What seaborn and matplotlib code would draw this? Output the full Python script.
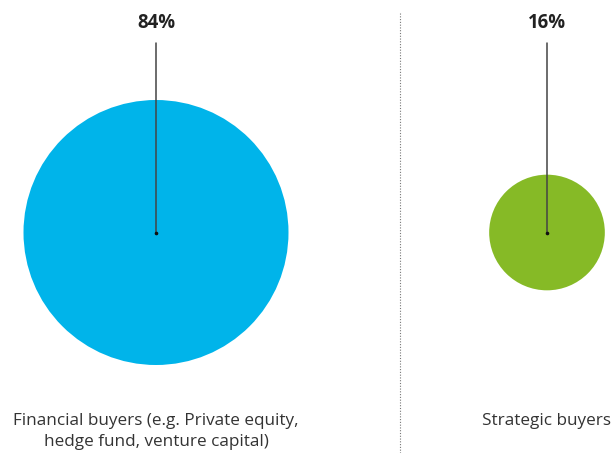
import matplotlib
matplotlib.use("Agg")
import matplotlib.pyplot as plt
import seaborn as sns
import pandas as pd

categories = ["Financial buyers (e.g. Private equity,\nhedge fund, venture capital)", "Strategic buyers"]
values = [84, 16]
labels = ["84%", "16%"]
colors = ["#00B4EA", "#86BA26"]

df = pd.DataFrame({"pos": [0, 1], "y": [0, 0], "value": values, "cat": categories})

sns.set_theme(style="white")
plt.rcParams["font.family"] = ["Open Sans", "DejaVu Sans"]

fig = plt.figure(figsize=(6.14, 4.53), dpi=100)
ax = fig.add_axes([0, 0, 1, 1])

# pixel mapping: pos 0 -> x=156, pos 1 -> x=547
unit = 391.0
ax.set_xlim(-156 / unit, 1 + (614 - 547) / unit)
ax.set_ylim(-(453 - 232.5), 232.5)

max_s = (2 * 132.5 * 0.72) ** 2
sns.scatterplot(data=df, x="pos", y="y", hue="cat", palette=colors, size="value",
                sizes=(0, max_s), size_norm=(0, max(values)), legend=False,
                linewidth=0, ax=ax, zorder=2)

for i, row in df.iterrows():
    ax.plot([row["pos"], row["pos"]], [row["y"], 232.5 - 43], color="#444444", lw=1.1, zorder=3)
    ax.plot([row["pos"]], [row["y"]], marker="o", ms=1.6, color="#111111", zorder=4)
    ax.text(row["pos"], 232.5 - 23, labels[i], ha="center", va="center",
            fontsize=13.4, fontweight="bold", color="#222222")
    ax.text(row["pos"], 232.5 - 413, row["cat"], ha="center", va="top",
            fontsize=12.3, color="#333333", linespacing=1.38)

# dotted separator
fig.add_artist(plt.Line2D([400 / 614, 400 / 614], [0, 1 - 13 / 453],
                          transform=fig.transFigure, color="#777777", lw=0.8,
                          linestyle=(0, (1, 1.5))))

ax.set_axis_off()
fig.savefig("out.png", dpi=100)
